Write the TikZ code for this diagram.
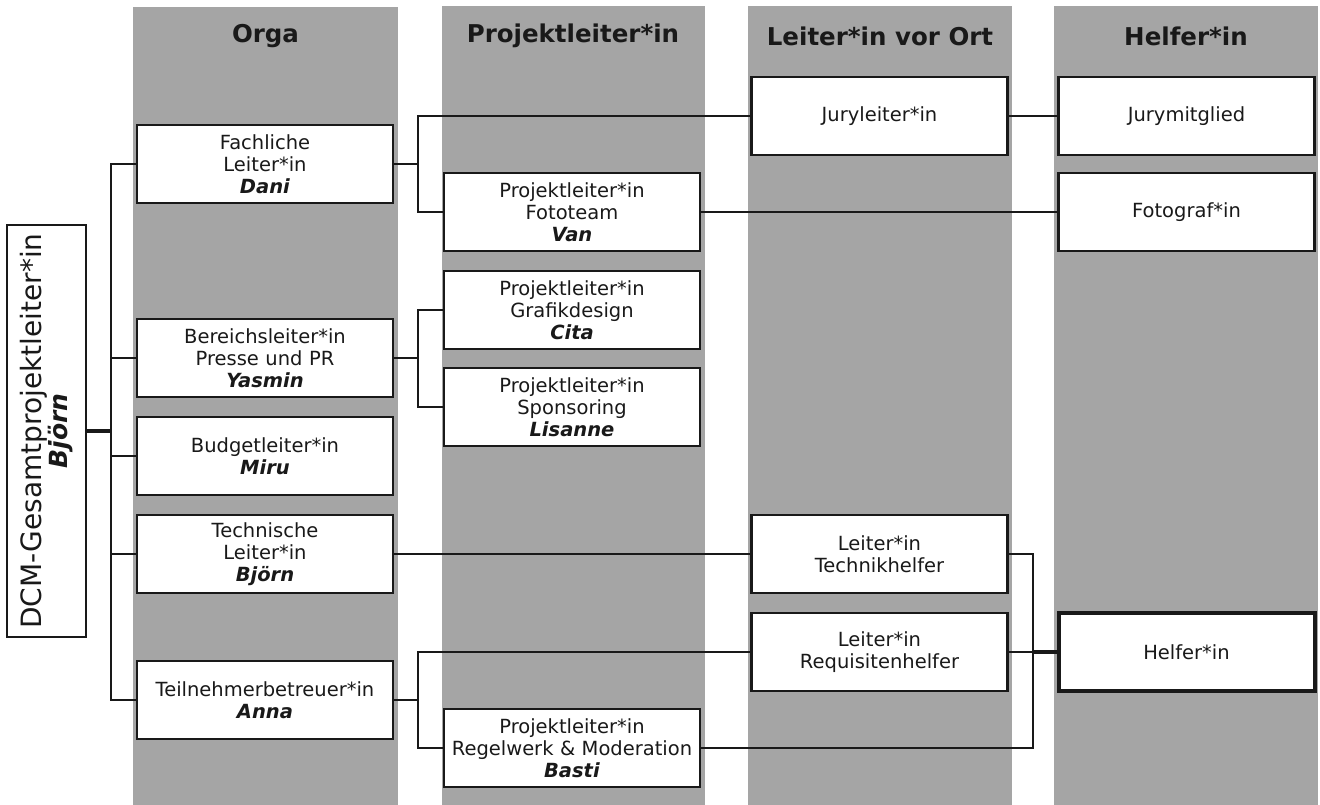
\documentclass[tikz,border=0pt]{standalone}
\usepackage{fontspec}
\setmainfont{DejaVu Sans}
\usetikzlibrary{calc}
\definecolor{colgray}{RGB}{165,165,165}
\definecolor{ink}{RGB}{25,25,25}
\begin{document}
\begin{tikzpicture}[x={(1pt,0)},y={(0,-1pt)},
  box/.style={draw=ink, line width=2.8pt, fill=white, text width=250pt, align=center,
    minimum height=78pt, inner sep=3pt, text=ink, font=\fontsize{19.5}{22}\selectfont},
  col/.style={fill=colgray, draw=none},
  head/.style={text=ink, font=\fontsize{24.5}{28}\selectfont\bfseries},
  conn/.style={draw=ink, line width=2.4pt},
  thickconn/.style={draw=ink, line width=3.5pt}]
\useasboundingbox (0,0) rectangle (1320,805);
% columns
\fill[colgray] (133,7) rectangle (398,805);
\fill[colgray] (442,6) rectangle (705,805);
\fill[colgray] (748,6) rectangle (1012,805);
\fill[colgray] (1054,6) rectangle (1318,805);
% headers
\node[head] (h1) at (265.5,36) {Orga};
\node[head] (h2) at (573,36) {Projektleiter*in};
\node[head] (h3) at (880,36) {Leiter*in vor Ort};
\node[head] (h4) at (1186,36) {Helfer*in};
% root
\node[draw=ink, line width=2.8pt, fill=white, rotate=90, minimum width=412pt, minimum height=79pt,
  text width=400pt, align=center, inner sep=3pt, text=ink] (root) at (46.5,431)
  {{\fontsize{28}{32}\selectfont DCM-Gesamtprojektleiter*in}\\{\fontsize{25}{32}\selectfont\bfseries\itshape Björn}};
% Orga
\node[box] (fach) at (265,164) {Fachliche\\Leiter*in\\\textbf{\textit{Dani}}};
\node[box] (presse) at (265,358) {Bereichsleiter*in\\Presse und PR\\\textbf{\textit{Yasmin}}};
\node[box] (budget) at (265,456) {Budgetleiter*in\\\textbf{\textit{Miru}}};
\node[box] (tech) at (265,554) {Technische\\Leiter*in\\\textbf{\textit{Björn}}};
\node[box] (anna) at (265,700) {Teilnehmerbetreuer*in\\\textbf{\textit{Anna}}};
% Projektleiter
\node[box] (foto) at (572,212) {Projektleiter*in\\Fototeam\\\textbf{\textit{Van}}};
\node[box] (grafik) at (572,310) {Projektleiter*in\\Grafikdesign\\\textbf{\textit{Cita}}};
\node[box] (spons) at (572,407) {Projektleiter*in\\Sponsoring\\\textbf{\textit{Lisanne}}};
\node[box] (regel) at (572,748) {Projektleiter*in\\Regelwerk \& Moderation\\\textbf{\textit{Basti}}};
% Leiter vor Ort
\node[box] (jury) at (879.5,116) {Juryleiter*in};
\node[box] (techh) at (879.5,554) {Leiter*in\\Technikhelfer};
\node[box] (requi) at (879.5,652) {Leiter*in\\Requisitenhelfer};
% Helfer
\node[box] (jurym) at (1186.5,116) {Jurymitglied};
\node[box] (fotograf) at (1186.5,212) {Fotograf*in};
\node[box, line width=4pt] (helfer) at (1186.5,652) {Helfer*in};
% connectors
\coordinate (b0) at (111,431);
\draw[thickconn] (root.south) -- (b0);
\draw[conn] (fach.west) -| (b0);
\draw[conn] (presse.west) -| (b0);
\draw[conn] (budget.west) -| (b0);
\draw[conn] (tech.west) -| (b0);
\draw[conn] (anna.west) -| (b0);
\coordinate (b1) at (418,164);
\draw[conn] (fach.east) -- (b1);
\draw[conn] (b1) |- (jury.west);
\draw[conn] (b1) |- (foto.west);
\coordinate (b2) at (418,358);
\draw[conn] (presse.east) -- (b2);
\draw[conn] (b2) |- (grafik.west);
\draw[conn] (b2) |- (spons.west);
\coordinate (b3) at (418,700);
\draw[conn] (anna.east) -- (b3);
\draw[conn] (b3) |- (requi.west);
\draw[conn] (b3) |- (regel.west);
\draw[conn] (jury.east) -- (jurym.west);
\draw[conn] (foto.east) -- (fotograf.west);
\draw[conn] (tech.east) -- (techh.west);
\coordinate (b4) at (1033,652);
\draw[conn] (techh.east) -| (b4);
\draw[conn] (regel.east) -| (b4);
\draw[conn] (requi.east) -- (b4);
\draw[thickconn] (b4) -- (helfer.west);
\end{tikzpicture}
\end{document}
